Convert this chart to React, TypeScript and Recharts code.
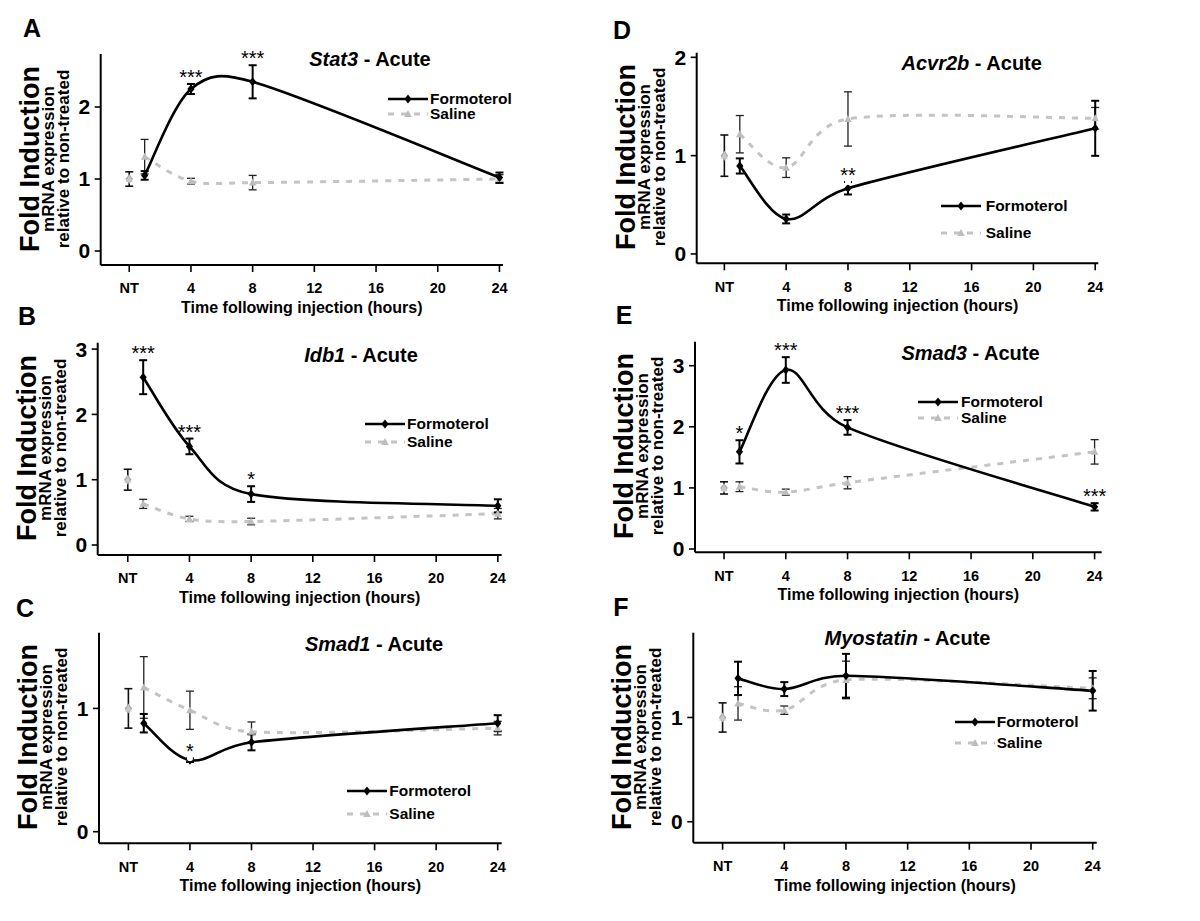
import React from 'react';
import { ComposedChart, Line, XAxis, YAxis, ErrorBar, LabelList } from 'recharts';

const FONT = "'Liberation Sans', Arial, Helvetica, sans-serif";

// time points (hours after injection); NT = non-treated control at 0
const HOURS = [1, 4, 8, 24];
const X_TICKS = [0, 4, 8, 12, 16, 20, 24];
const X_TICK_LABELS = ['NT', '4', '8', '12', '16', '20', '24'];

// A - Stat3
const stat3Formoterol = [1.05, 2.25, 2.35, 1.02];
const stat3FormoterolErr = [0.06, 0.07, 0.23, 0.07];
const stat3Saline = [1.31, 0.97, 0.95, 1.0];
const stat3SalineErr = [0.24, 0.04, 0.1, 0.06];
const stat3Sig = ['', '***', '***', ''];

// B - Idb1
const idb1Formoterol = [2.57, 1.51, 0.78, 0.6];
const idb1FormoterolErr = [0.26, 0.12, 0.12, 0.1];
const idb1Saline = [0.63, 0.4, 0.36, 0.48];
const idb1SalineErr = [0.07, 0.04, 0.05, 0.08];
const idb1Sig = ['***', '***', '*', ''];

// C - Smad1
const smad1Formoterol = [0.88, 0.58, 0.725, 0.88];
const smad1FormoterolErr = [0.075, 0.015, 0.065, 0.065];
const smad1Saline = [1.17, 0.985, 0.81, 0.84];
const smad1SalineErr = [0.25, 0.155, 0.08, 0.055];
const smad1Sig = ['', '*', '', ''];

// D - Acvr2b
const acvr2bFormoterol = [0.895, 0.356, 0.668, 1.278];
const acvr2bFormoterolErr = [0.077, 0.045, 0.063, 0.28];
const acvr2bSaline = [1.218, 0.878, 1.373, 1.38];
const acvr2bSalineErr = [0.19, 0.1, 0.276, 0.11];
const acvr2bSig = ['', '', '**', ''];

// E - Smad3
const smad3Formoterol = [1.59, 2.93, 1.99, 0.69];
const smad3FormoterolErr = [0.19, 0.21, 0.12, 0.06];
const smad3Saline = [1.02, 0.93, 1.085, 1.59];
const smad3SalineErr = [0.08, 0.05, 0.1, 0.2];
const smad3Sig = ['*', '***', '***', '***'];

// F - Myostatin
const mstnFormoterol = [1.375, 1.272, 1.4, 1.256];
const mstnFormoterolErr = [0.16, 0.067, 0.21, 0.19];
const mstnSaline = [1.135, 1.07, 1.36, 1.28];
const mstnSalineErr = [0.16, 0.04, 0.18, 0.1];
const mstnSig = ['', '', '', ''];

// NT control (A..F)
const NT_VALUES = [1.0, 1.0, 1.0, 1.0, 1.0, 1.0];
const NT_ERRS = [0.1, 0.16, 0.16, 0.21, 0.1, 0.14];

const GENES = ['Stat3', 'Idb1', 'Smad1', 'Acvr2b', 'Smad3', 'Myostatin'];
const LETTERS = ['A', 'B', 'C', 'D', 'E', 'F'];
const Y_TICKS = [[0, 1, 2], [0, 1, 2, 3], [0, 1], [0, 1, 2], [0, 1, 2, 3], [0, 1]];

const FORMO = [stat3Formoterol, idb1Formoterol, smad1Formoterol, acvr2bFormoterol, smad3Formoterol, mstnFormoterol];
const FORMO_ERR = [stat3FormoterolErr, idb1FormoterolErr, smad1FormoterolErr, acvr2bFormoterolErr, smad3FormoterolErr, mstnFormoterolErr];
const SALINE = [stat3Saline, idb1Saline, smad1Saline, acvr2bSaline, smad3Saline, mstnSaline];
const SALINE_ERR = [stat3SalineErr, idb1SalineErr, smad1SalineErr, acvr2bSalineErr, smad3SalineErr, mstnSalineErr];
const SIG = [stat3Sig, idb1Sig, smad1Sig, acvr2bSig, smad3Sig, mstnSig];

// layout (page pixel geometry of each panel)
const LAYOUT = [
  { px: 0, py: 0, h: 320, L: 100.7, T: 54, R: 503, B: 265, xd: [-1.85, 24.23], yd: [-0.194, 2.736],
    letter: [32, 28], title: [370, 59], leg: { lx: 388, tx: 430, y1: 98.7, y2: 114 } },
  { px: 0, py: 300, h: 320, L: 97.7, T: 342.7, R: 501.7, B: 555, xd: [-1.95, 24.25], yd: [-0.153, 3.098],
    letter: [27, 316], title: [361, 355], leg: { lx: 365, tx: 407, y1: 424, y2: 441.7 } },
  { px: 0, py: 600, h: 321, L: 99, T: 632.7, R: 501.7, B: 843.3, xd: [-1.91, 24.26], yd: [-0.094, 1.614],
    letter: [25, 608], title: [374, 644], leg: { lx: 346.7, tx: 389.3, y1: 790.7, y2: 814 } },
  { px: 600, py: 0, h: 320, L: 696.7, T: 52.7, R: 1098.3, B: 263.3, xd: [-1.79, 24.2], yd: [-0.095, 2.047],
    letter: [622, 30], title: [971.7, 63.3], leg: { lx: 940.7, tx: 985.7, y1: 205.7, y2: 233.3 } },
  { px: 600, py: 300, h: 320, L: 695, T: 341.7, R: 1101.7, B: 552.3, xd: [-1.88, 24.46], yd: [-0.054, 3.393],
    letter: [624, 315], title: [970.5, 353.3], leg: { lx: 918.3, tx: 961, y1: 401.7, y2: 418.3 } },
  { px: 600, py: 600, h: 321, L: 693.3, T: 632.7, R: 1096.7, B: 842.7, xd: [-1.9, 24.26], yd: [-0.201, 1.813],
    letter: [621, 607], title: [907.5, 638.3], leg: { lx: 955, tx: 996.7, y1: 721.7, y2: 743.3 } },
];

const YW = 40;
const XH = 50;

// Excel-like smoothed line: Bezier through points, tangents limited to half the segment length
const excelSmooth: any = (context: any) => {
  let pts: number[][] = [];
  const dist = (a: number[], b: number[]) => Math.hypot(a[0] - b[0], a[1] - b[1]);
  return {
    areaStart() {},
    areaEnd() {},
    lineStart() { pts = []; },
    point(x: number, y: number) { pts.push([+x, +y]); },
    lineEnd() {
      const n = pts.length;
      if (!n) return;
      context.moveTo(pts[0][0], pts[0][1]);
      for (let i = 0; i < n - 1; i++) {
        const p0 = pts[i > 0 ? i - 1 : i];
        const p1 = pts[i];
        const p2 = pts[i + 1];
        const p3 = pts[i + 2 < n ? i + 2 : i + 1];
        const d12 = dist(p1, p2);
        const d02 = dist(p0, p2);
        const d13 = dist(p1, p3);
        let f = 1 / 6;
        let g = 1 / 6;
        if (d02 > 0 && f * d02 > d12 / 2) f = d12 / (2 * d02);
        if (d13 > 0 && g * d13 > d12 / 2) g = d12 / (2 * d13);
        context.bezierCurveTo(
          p1[0] + f * (p2[0] - p0[0]), p1[1] + f * (p2[1] - p0[1]),
          p2[0] - g * (p3[0] - p1[0]), p2[1] - g * (p3[1] - p1[1]),
          p2[0], p2[1]
        );
      }
    },
  };
};

const diamondDot = (p: any) => {
  const { cx, cy, index } = p;
  if (cx == null || cy == null) return <g key={`dd${index}`} />;
  return <path key={`dd${index}`} d={`M${cx},${cy - 4.5}L${cx + 3.6},${cy}L${cx},${cy + 4.5}L${cx - 3.6},${cy}Z`} fill="#000" />;
};
const triangleDot = (p: any) => {
  const { cx, cy, index } = p;
  if (cx == null || cy == null) return <g key={`td${index}`} />;
  return <path key={`td${index}`} d={`M${cx},${cy - 4}L${cx + 3.8},${cy + 3}L${cx - 3.8},${cy + 3}Z`} fill="#bdbdbd" />;
};
const ntDot = (p: any) => {
  const { cx, cy, index } = p;
  if (cx == null || cy == null) return <g key={`nd${index}`} />;
  return (
    <g key={`nd${index}`}>
      <path d={`M${cx},${cy - 5}L${cx + 3.8},${cy}L${cx},${cy + 5}L${cx - 3.8},${cy}Z`} fill="#a8a8a8" />
      <path d={`M${cx},${cy - 4}L${cx + 3.5},${cy + 3}L${cx - 3.5},${cy + 3}Z`} fill="#c8c8c8" />
    </g>
  );
};

const mkSeries = (vals: number[], errs: number[], sig: string[]) =>
  HOURS.map((h, i) => ({ x: h, y: vals[i], e: errs[i], top: vals[i] + errs[i], sig: sig[i] }));

const abs = (x: number, y: number): React.CSSProperties => ({
  position: 'absolute', left: x, top: y, transform: 'translate(-50%, -50%)', whiteSpace: 'nowrap',
});

function Panel({ i }: { i: number }) {
  const c = LAYOUT[i];
  const W = 600;
  const margin = {
    left: c.L - c.px - YW,
    top: c.T - c.py,
    right: c.px + W - c.R,
    bottom: c.py + c.h - c.B - XH,
  };
  const formo = mkSeries(FORMO[i], FORMO_ERR[i], SIG[i]);
  const saline = mkSeries(SALINE[i], SALINE_ERR[i], ['', '', '', '']);
  const sigPts = formo.filter((d) => d.sig !== '');
  const nt = [{ x: 0, y: NT_VALUES[i], e: NT_ERRS[i] }];
  const yMid = (c.T + c.B) / 2 - 1;
  const tickStyle = { fontFamily: FONT, fontWeight: 700, fill: '#000' };

  return (
    <>
      <div style={{ position: 'absolute', left: c.px, top: c.py, width: W, height: c.h }}>
        <ComposedChart width={W} height={c.h} margin={margin}>
          <XAxis
            type="number"
            dataKey="x"
            domain={c.xd}
            allowDataOverflow
            ticks={X_TICKS}
            interval={0}
            tickFormatter={(v: number) => X_TICK_LABELS[X_TICKS.indexOf(v)] ?? String(v)}
            height={XH}
            axisLine={{ stroke: '#000', strokeWidth: 2 }}
            tickLine={{ stroke: '#000', strokeWidth: 1.6 }}
            tickSize={7}
            tickMargin={11}
            tick={{ ...tickStyle, fontSize: 14.5 }}
            label={{
              value: 'Time following injection (hours)',
              position: 'insideBottom',
              offset: 2,
              style: { fontFamily: FONT, fontWeight: 700, fontSize: 16, fill: '#000' },
            }}
          />
          <YAxis
            type="number"
            domain={c.yd}
            allowDataOverflow
            ticks={Y_TICKS[i]}
            interval={0}
            width={YW}
            axisLine={{ stroke: '#000', strokeWidth: 2 }}
            tickLine={{ stroke: '#000', strokeWidth: 1.6 }}
            tickSize={6}
            tickMargin={4.5}
            tick={{ ...tickStyle, fontSize: 21 }}
          />
          <Line
            data={saline}
            dataKey="y"
            type={excelSmooth}
            stroke="#c4c4c4"
            strokeWidth={3}
            strokeDasharray="6 7"
            dot={triangleDot}
            activeDot={false}
            isAnimationActive={false}
            legendType="none"
          >
            <ErrorBar dataKey="e" width={4} strokeWidth={1.3} stroke="#222" direction="y" />
          </Line>
          <Line
            data={formo}
            dataKey="y"
            type={excelSmooth}
            stroke="#000"
            strokeWidth={2.6}
            dot={diamondDot}
            activeDot={false}
            isAnimationActive={false}
            legendType="none"
          >
            <ErrorBar dataKey="e" width={4} strokeWidth={2} stroke="#000" direction="y" />
          </Line>
          <Line
            data={nt}
            dataKey="y"
            stroke="none"
            dot={ntDot}
            activeDot={false}
            isAnimationActive={false}
            legendType="none"
          >
            <ErrorBar dataKey="e" width={4} strokeWidth={1.6} stroke="#111" direction="y" />
          </Line>
          <Line
            data={sigPts}
            dataKey="top"
            stroke="none"
            dot={false}
            activeDot={false}
            isAnimationActive={false}
            legendType="none"
          >
            <LabelList
              dataKey="sig"
              position="top"
              offset={0}
              style={{ fontFamily: FONT, fontSize: 20, fill: '#000' }}
            />
          </Line>
        </ComposedChart>
      </div>

      {/* panel letter */}
      <div style={{ ...abs(c.letter[0], c.letter[1]), fontFamily: FONT, fontWeight: 700, fontSize: 25 }}>
        {LETTERS[i]}
      </div>

      {/* gene title */}
      <div style={{ ...abs(c.title[0], c.title[1]), fontFamily: FONT, fontWeight: 700, fontSize: 20 }}>
        <i>{GENES[i]}</i> - Acute
      </div>

      {/* y axis labels */}
      <div style={{ ...abs(c.L - 71, yMid), transform: 'translate(-50%, -50%) rotate(-90deg)', fontFamily: FONT, fontWeight: 700, fontSize: 27 }}>
        Fold Induction
      </div>
      <div style={{ ...abs(c.L - 52, yMid), transform: 'translate(-50%, -50%) rotate(-90deg)', fontFamily: FONT, fontWeight: 700, fontSize: 17 }}>
        mRNA expression
      </div>
      <div style={{ ...abs(c.L - 37, yMid), transform: 'translate(-50%, -50%) rotate(-90deg)', fontFamily: FONT, fontWeight: 700, fontSize: 17 }}>
        relative to non-treated
      </div>

      {/* legend */}
      <svg width={40} height={12} style={{ position: 'absolute', left: c.leg.lx, top: c.leg.y1 - 6 }}>
        <line x1={0} y1={6} x2={40} y2={6} stroke="#000" strokeWidth={2.6} />
        <path d="M20,1.5L23.6,6L20,10.5L16.4,6Z" fill="#000" />
      </svg>
      <div style={{ position: 'absolute', left: c.leg.tx, top: c.leg.y1, transform: 'translateY(-50%)', fontFamily: FONT, fontWeight: 700, fontSize: 15.5, whiteSpace: 'nowrap' }}>
        Formoterol
      </div>
      <svg width={40} height={12} style={{ position: 'absolute', left: c.leg.lx, top: c.leg.y2 - 6 }}>
        <line x1={0} y1={6} x2={40} y2={6} stroke="#c4c4c4" strokeWidth={3} strokeDasharray="6 7" />
        <path d="M20,2L23.8,9L16.2,9Z" fill="#bdbdbd" />
      </svg>
      <div style={{ position: 'absolute', left: c.leg.tx, top: c.leg.y2, transform: 'translateY(-50%)', fontFamily: FONT, fontWeight: 700, fontSize: 15.5, whiteSpace: 'nowrap' }}>
        Saline
      </div>
    </>
  );
}

export default function App() {
  return (
    <div style={{ position: 'absolute', left: 0, top: 0, width: 1200, height: 921, background: '#fff', overflow: 'hidden' }}>
      {LAYOUT.map((_, i) => (
        <Panel key={i} i={i} />
      ))}
    </div>
  );
}
